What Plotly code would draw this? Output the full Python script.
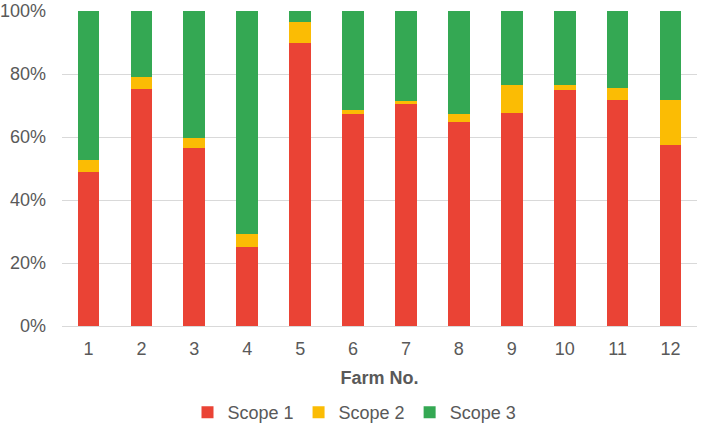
import plotly.graph_objects as go

farms = [str(i) for i in range(1, 13)]
scope1 = [48.8, 75.1, 56.4, 25.0, 89.9, 67.4, 70.4, 64.7, 67.5, 74.9, 71.6, 57.4]
scope2 = [4.0, 3.8, 3.3, 4.1, 6.6, 1.3, 0.9, 2.7, 8.9, 1.5, 3.8, 14.4]
scope3 = [47.2, 21.1, 40.3, 70.9, 3.5, 31.3, 28.7, 32.6, 23.6, 23.6, 24.6, 28.2]

colors = {"Scope 1": "#EA4335", "Scope 2": "#FBBC04", "Scope 3": "#34A853"}

fig = go.Figure()
for name, vals in [("Scope 1", scope1), ("Scope 2", scope2), ("Scope 3", scope3)]:
    fig.add_trace(go.Bar(x=farms, y=vals, name=name, marker_color=colors[name],
                         marker_line_width=0))

font = "Liberation Sans, Arial, sans-serif"
fig.update_layout(
    barmode="stack",
    barnorm="percent",
    bargap=0.59,
    width=709, height=426,
    margin=dict(l=62, r=12, t=11, b=100, autoexpand=False),
    plot_bgcolor="white", paper_bgcolor="white",
    font=dict(family=font, size=18, color="#595959"),
    showlegend=True,
    legend=dict(orientation="h", x=0.5, xanchor="center", xref="container",
                y=0.075, yanchor="top", yref="container",
                font=dict(size=18, color="#595959"), traceorder="normal",
                itemwidth=30, tracegroupgap=0),
    xaxis=dict(title=dict(text="<b>Farm No.</b>", font=dict(size=18, color="#595959"), standoff=13),
               showline=True, linecolor="#d9d9d9", linewidth=1, ticks="",
               tickfont=dict(size=18, color="#595959"), automargin=False,
               ticklabelstandoff=6),
    yaxis=dict(range=[0, 100], tickvals=[0, 20, 40, 60, 80, 100],
               ticktext=["0%", "20%", "40%", "60%", "80%", "100%"],
               gridcolor="#d9d9d9", gridwidth=1, zeroline=False, automargin=False,
               tickfont=dict(size=18, color="#595959"), ticklabelstandoff=15),
)
fig.write_html("out.html")
